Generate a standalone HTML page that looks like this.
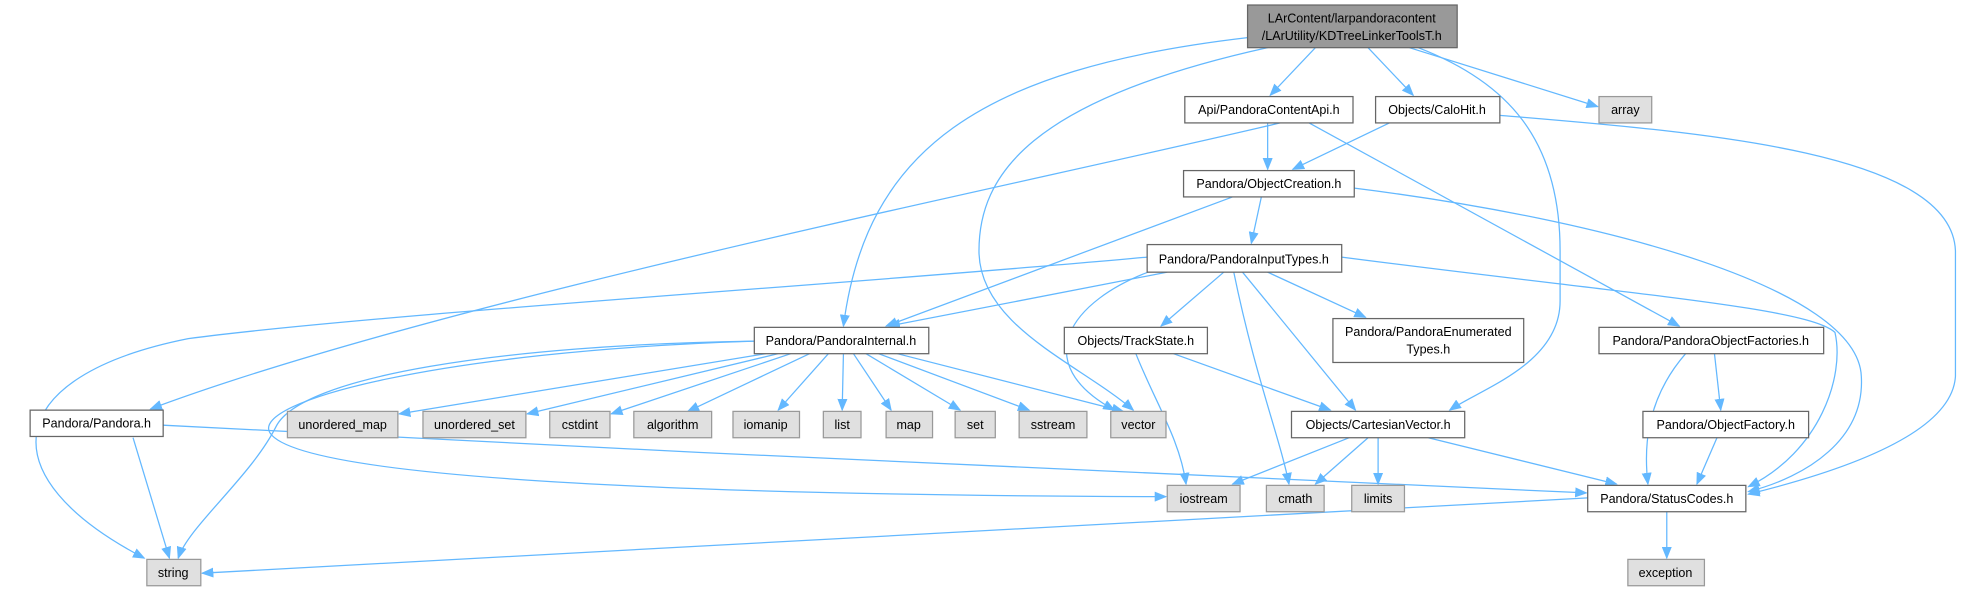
<!DOCTYPE html>
<html><head><meta charset="utf-8"><style>
html,body{margin:0;padding:0;background:#fff;}
svg{display:block}
text{font-family:"Liberation Sans",Arial,sans-serif;font-size:10px;fill:#000;text-anchor:middle;}
.n{fill:#fff;stroke:#666;stroke-width:1}
.g{fill:#e0e0e0;stroke:#999;stroke-width:1}
.e{fill:none;stroke:#63b8ff;stroke-width:1}
</style></head><body>
<svg width="1968" height="592" viewBox="0 0 1568 472" preserveAspectRatio="none" xmlns="http://www.w3.org/2000/svg">
<defs><marker id="a" markerWidth="10" markerHeight="8" refX="9" refY="4" orient="auto" markerUnits="userSpaceOnUse"><path d="M0,0 L10,4 L0,8 z" fill="#63b8ff"/></marker></defs>
<g class="e" marker-end="url(#a)">
<path d="M994,30 C780,55 690,120 672,260"/>
<path d="M1010,38 C820,80 780,140 780,200 C780,260 860,290 903,327"/>
<path d="M1048,38 L1012,76"/>
<path d="M1090,38 L1126,76"/>
<path d="M1123,38 L1273,85"/>
<path d="M1130,38 C1200,65 1243,110 1243,200 L1243,240 C1243,290 1180,310 1155,327"/>
<path d="M1010,98 L1010,135"/>
<path d="M1020,98 C800,150 350,240 120,326"/>
<path d="M1043,98 L1338,260"/>
<path d="M1107,98 L1030,135"/>
<path d="M1195,92 C1350,105 1555,120 1558,200 L1558,300 C1555,350 1450,380 1393,394"/>
<path d="M1005,157 L997,194"/>
<path d="M982,157 L706,260"/>
<path d="M1079,150 C1280,175 1480,230 1483,300 C1486,350 1440,380 1393,392"/>
<path d="M930,217 L708,260"/>
<path d="M914,205 C700,225 300,250 150,270 C0,300 -10,380 115,445"/>
<path d="M920,215 C850,240 820,290 888,327"/>
<path d="M975,217 L925,260"/>
<path d="M990,217 L1080,327"/>
<path d="M983,217 C1000,300 1020,350 1027,386"/>
<path d="M1010,217 L1088,253"/>
<path d="M1069,205 C1300,235 1440,245 1462,265 C1470,300 1450,360 1393,388"/>
<path d="M601,272 C400,275 240,300 220,340 C200,380 150,420 142,445"/>
<path d="M601,272 C350,280 200,320 215,345 C240,385 600,395 929,396"/>
<path d="M610,282 L318,330"/>
<path d="M620,282 L420,330"/>
<path d="M630,282 L487,330"/>
<path d="M645,282 L548,328"/>
<path d="M660,282 L620,327"/>
<path d="M672,282 L671,327"/>
<path d="M680,282 L710,327"/>
<path d="M690,282 L765,327"/>
<path d="M700,282 L820,327"/>
<path d="M715,282 L895,328"/>
<path d="M905,282 C920,320 940,350 945,386"/>
<path d="M935,282 L1060,327"/>
<path d="M1075,349 L982,386"/>
<path d="M1090,349 L1048,386"/>
<path d="M1098,349 L1098,386"/>
<path d="M1138,349 L1288,386"/>
<path d="M1343,282 C1310,320 1310,360 1313,386"/>
<path d="M1366,282 L1371,327"/>
<path d="M1368,349 L1352,386"/>
<path d="M106,349 L135,445"/>
<path d="M130,339 C500,360 1000,380 1264,393"/>
<path d="M1265,397 L161,457"/>
<path d="M1328,408 L1328,445"/>
</g>
<rect x="994" y="4" width="167" height="34" fill="#999" stroke="#666"/>
<text x="1077" y="18">LArContent/larpandoracontent</text>
<text x="1077" y="32">/LArUtility/KDTreeLinkerToolsT.h</text>
<rect class="n" x="944" y="77" width="134" height="21"/><text x="1011" y="91">Api/PandoraContentApi.h</text>
<rect class="n" x="1096" y="77" width="99" height="21"/><text x="1145" y="91">Objects/CaloHit.h</text>
<rect class="g" x="1274" y="77" width="42" height="21"/><text x="1295" y="91">array</text>
<rect class="n" x="943" y="136" width="136" height="21"/><text x="1011" y="150">Pandora/ObjectCreation.h</text>
<rect class="n" x="914" y="195" width="155" height="22"/><text x="991" y="210">Pandora/PandoraInputTypes.h</text>
<rect class="n" x="601" y="261" width="139" height="21"/><text x="670" y="275">Pandora/PandoraInternal.h</text>
<rect class="n" x="848" y="261" width="114" height="21"/><text x="905" y="275">Objects/TrackState.h</text>
<rect class="n" x="1062" y="254" width="152" height="35"/><text x="1138" y="268">Pandora/PandoraEnumerated</text><text x="1138" y="282">Types.h</text>
<rect class="n" x="1274" y="261" width="179" height="21"/><text x="1363" y="275">Pandora/PandoraObjectFactories.h</text>
<rect class="n" x="24" y="327" width="106" height="21"/><text x="77" y="341">Pandora/Pandora.h</text>
<rect class="g" x="229" y="328" width="88" height="21"/><text x="273" y="342">unordered_map</text>
<rect class="g" x="337" y="328" width="82" height="21"/><text x="378" y="342">unordered_set</text>
<rect class="g" x="438" y="328" width="48" height="21"/><text x="462" y="342">cstdint</text>
<rect class="g" x="505" y="328" width="62" height="21"/><text x="536" y="342">algorithm</text>
<rect class="g" x="584" y="328" width="53" height="21"/><text x="610" y="342">iomanip</text>
<rect class="g" x="656" y="328" width="30" height="21"/><text x="671" y="342">list</text>
<rect class="g" x="706" y="328" width="37" height="21"/><text x="724" y="342">map</text>
<rect class="g" x="761" y="328" width="32" height="21"/><text x="777" y="342">set</text>
<rect class="g" x="812" y="328" width="54" height="21"/><text x="839" y="342">sstream</text>
<rect class="g" x="885" y="328" width="44" height="21"/><text x="907" y="342">vector</text>
<rect class="n" x="1029" y="328" width="138" height="21"/><text x="1098" y="342">Objects/CartesianVector.h</text>
<rect class="n" x="1309" y="328" width="132" height="21"/><text x="1375" y="342">Pandora/ObjectFactory.h</text>
<rect class="g" x="930" y="387" width="58" height="21"/><text x="959" y="401">iostream</text>
<rect class="g" x="1009" y="387" width="46" height="21"/><text x="1032" y="401">cmath</text>
<rect class="g" x="1077" y="387" width="42" height="21"/><text x="1098" y="401">limits</text>
<rect class="n" x="1265" y="387" width="126" height="21"/><text x="1328" y="401">Pandora/StatusCodes.h</text>
<rect class="g" x="117" y="446" width="43" height="21"/><text x="138" y="460">string</text>
<rect class="g" x="1297" y="446" width="61" height="21"/><text x="1327" y="460">exception</text>
</svg>
</body></html>
